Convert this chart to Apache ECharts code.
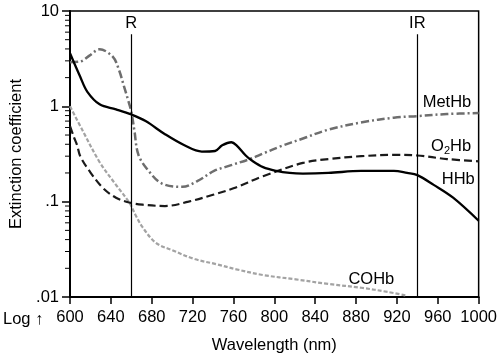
<!DOCTYPE html>
<html><head><meta charset="utf-8">
<script src="https://cdn.jsdelivr.net/npm/echarts@6/dist/echarts.min.js"></script>
<style>html,body{margin:0;padding:0;background:#fff}#c{width:500px;height:359px}</style>
</head><body><div id="c"></div>
<script>
// ---- data ----
var hhbX = [600,610,617,629,645,660,674,693,712,729,742,749,758,763,772,778,789,802,815,828,853,885,917,930,940,956,975,1000];
var hhbY = [3.6,2.04,1.42,1.05,0.93,0.82,0.70,0.51,0.39,0.335,0.34,0.39,0.42,0.39,0.305,0.27,0.23,0.21,0.2,0.197,0.2,0.21,0.21,0.2,0.19,0.15,0.11,0.063];

var methbX = [600,610,619,629,642,648,653,657,660,663,667,677,690,710,725,741,757,776,789,806,828,853,886,917,940,969,1000];
var methbY = [2.9,2.95,3.4,3.96,3.3,2.4,1.6,1.15,0.88,0.56,0.31,0.21,0.155,0.143,0.165,0.21,0.24,0.28,0.32,0.38,0.46,0.57,0.68,0.76,0.79,0.83,0.85];

var o2hbX = [600,604,607,610,619,632,645,658,671,693,716,740,760,789,828,853,885,917,940,969,1000];
var o2hbY = [0.62,0.47,0.39,0.30,0.21,0.14,0.11,0.098,0.093,0.09,0.1,0.118,0.138,0.185,0.255,0.28,0.3,0.31,0.305,0.28,0.265];

var cohbX = [600,613,629,645,658,664,671,684,700,722,744,763,789,821,853,885,911,930];
var cohbY = [1.0,0.54,0.26,0.15,0.098,0.073,0.054,0.037,0.031,0.025,0.022,0.0195,0.017,0.0153,0.0137,0.0125,0.0113,0.0103];

var xTicks = [600,640,680,720,760,800,840,880,920,960,1000];
var yTickLabels = ['.01','.1','1','10'];
var yMinorTicks = [0.02,0.03,0.04,0.05,0.06,0.07,0.08,0.09,0.2,0.3,0.4,0.5,0.6,0.7,0.8,0.9,2,3,4,5,6,7,8,9];

var markerNames = ['R','IR'];
var markerX = [660, 940];
var markerTop = 5.7;

var curveLabels = ['MetHb','O{sub|2}Hb','HHb','COHb'];
var curveLabelX = [969, 973, 980, 895];
var curveLabelY = [1.1, 0.38, 0.17, 0.0153];

// ---- build ----
function pairs(xs, ys){ return xs.map(function(x,i){ return [x, ys[i]]; }); }
var FONT = 'Liberation Sans';
var FS = 16.5;
var chart = echarts.init(document.getElementById('c'), null, {renderer:'canvas'});

var option = {
  animation: false,
  backgroundColor: '#fff',
  grid: {left: 64, right: 21, top: 11, bottom: 58, show: true, borderColor: '#000', borderWidth: 1.5, backgroundColor: 'transparent'},
  xAxis: {
    type: 'value', min: 600, max: 1000, interval: 40,
    name: 'Wavelength (nm)', nameLocation: 'middle', nameGap: 40,
    nameTextStyle: {fontFamily: FONT, fontSize: FS, color: '#000'},
    axisLine: {show: true, lineStyle: {color: '#000', width: 2}},
    axisTick: {show: true, inside: false, length: 7, lineStyle: {color: '#000', width: 1.5}},
    axisLabel: {margin: 12, fontFamily: FONT, fontSize: FS, color: '#000',
      formatter: function(v){ return xTicks.indexOf(v) >= 0 ? String(v) : ''; }},
    splitLine: {show: false}
  },
  yAxis: {
    type: 'log', logBase: 10, min: 0.01, max: 10,
    name: 'Extinction coefficient', nameLocation: 'middle', nameGap: 45, nameRotate: 90,
    nameTextStyle: {fontFamily: FONT, fontSize: FS, color: '#000'},
    axisLine: {show: true, lineStyle: {color: '#000', width: 2}},
    axisTick: {show: true, inside: false, length: 8, lineStyle: {color: '#000', width: 1.5}},
    axisLabel: {margin: 11, fontFamily: FONT, fontSize: FS, color: '#000',
      formatter: function(v){ var k = Math.round(Math.log10(v)) + 2; return yTickLabels[k] || ''; }},
    splitLine: {show: false}
  },
  graphic: [{type: 'text', left: 3, top: 311, style: {text: 'Log \u2191', font: FS + 'px ' + FONT, fill: '#000'}}],
  series: [
    {
      type: 'custom', clip: false, silent: true, z: 5,
      data: yMinorTicks.map(function(v){ return [600, v]; }),
      encode: {x: 0, y: 1},
      renderItem: function(params, api){
        var p = api.coord([api.value(0), api.value(1)]);
        return {type: 'line', shape: {x1: p[0] - 5, y1: p[1], x2: p[0], y2: p[1]}, style: {stroke: '#000', lineWidth: 1}};
      }
    },
    {
      type: 'line', name: 'markers', data: [], silent: true,
      markLine: {
        symbol: 'none', silent: true, animation: false,
        lineStyle: {color: '#000', width: 1.2, type: 'solid'},
        label: {show: true, position: 'end', distance: 2, fontFamily: FONT, fontSize: FS, color: '#000', formatter: '{b}'},
        data: markerX.map(function(x, i){ return [{coord: [x, 0.01], name: markerNames[i]}, {coord: [x, markerTop]}]; })
      }
    },
    {type: 'line', name: 'COHb', data: pairs(cohbX, cohbY), smooth: 0.35, showSymbol: false, z: 2,
      lineStyle: {color: '#a3a3a3', width: 2.2, type: [4, 2]}},
    {type: 'line', name: 'O2Hb', data: pairs(o2hbX, o2hbY), smooth: 0.35, showSymbol: false, z: 3,
      lineStyle: {color: '#1a1a1a', width: 2.2, type: [8, 4]}},
    {type: 'line', name: 'MetHb', data: pairs(methbX, methbY), smooth: 0.35, showSymbol: false, z: 3,
      lineStyle: {color: '#6e6e6e', width: 2.5, type: [8, 3, 2, 3]}},
    {type: 'line', name: 'HHb', data: pairs(hhbX, hhbY), smooth: 0.35, showSymbol: false, z: 4,
      lineStyle: {color: '#000', width: 2.3, type: 'solid'}},
    {
      type: 'custom', silent: true, z: 6, clip: false,
      data: curveLabelX.map(function(x, i){ return [x, curveLabelY[i], i]; }),
      encode: {x: 0, y: 1},
      renderItem: function(params, api){
        var p = api.coord([api.value(0), api.value(1)]);
        return {type: 'text', x: p[0], y: p[1], style: {
          text: curveLabels[api.value(2)], fill: '#000',
          fontFamily: FONT, fontSize: FS, align: 'center', verticalAlign: 'middle',
          rich: {sub: {fontFamily: FONT, fontSize: 11, fill: '#000', padding: [9, 0, 0, 0]}}
        }};
      }
    }
  ]
};
chart.setOption(option);
</script>
</body></html>
